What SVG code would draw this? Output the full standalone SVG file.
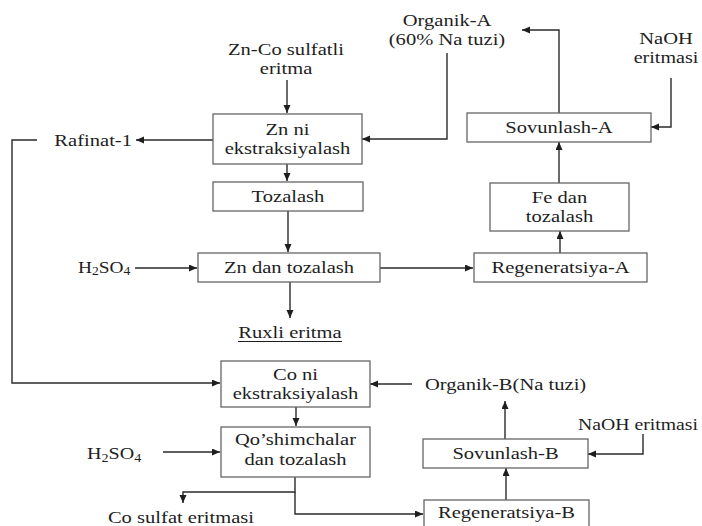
<svg xmlns="http://www.w3.org/2000/svg" width="702" height="526" viewBox="0 0 702 526">
<style>
text{font-family:"Liberation Serif","Times New Roman",serif;font-size:17px;fill:#1e1e1e}
.m{text-anchor:middle}
.e{text-anchor:end}
.box{fill:#fff;stroke:#666;stroke-width:1.3}
.c{fill:none;stroke:#2a2a2a;stroke-width:1.4}
.a{marker-end:url(#ah)}
</style>
<defs>
<marker id="ah" markerUnits="userSpaceOnUse" markerWidth="9" markerHeight="8" refX="8" refY="3.5" orient="auto">
<path d="M0,0 L8,3.5 L0,7 z" fill="#1e1e1e"/>
</marker>
</defs>
<rect width="702" height="526" fill="#fff"/>
<g id="connectors">
<path class="c a" d="M287,80 V113"/>
<path class="c a" d="M213,140 H136"/>
<path class="c a" d="M447,53 V139 H362"/>
<path class="c a" d="M287,164 V181"/>
<path class="c a" d="M288,211 V252"/>
<path class="c a" d="M135,268 H197"/>
<path class="c a" d="M290,282 V318"/>
<path class="c a" d="M380,268 H473"/>
<path class="c a" d="M560,253 V231"/>
<path class="c a" d="M559,183 V142"/>
<path class="c a" d="M559,113 V30 H522"/>
<path class="c a" d="M671,78 V127 H651"/>
<path class="c a" d="M37,140 H12 V383 H220"/>
<path class="c a" d="M412,384 H370"/>
<path class="c a" d="M296,407 V426"/>
<path class="c a" d="M163,452 H220"/>
<path class="c a" d="M295,477 V492 H183 V503"/>
<path class="c a" d="M295,492 V514 H423"/>
<path class="c a" d="M506,500 V468"/>
<path class="c a" d="M505,439 V401"/>
<path class="c a" d="M643,434 V454 H588"/>
</g>
<g id="zn-co-input"><text class="m" transform="translate(286,55) scale(1.21,1)">Zn-Co sulfatli</text><text class="m" transform="translate(286,74) scale(1.21,1)">eritma</text></g>
<g id="zn-extraction"><rect class="box" x="213" y="114" width="149" height="50"/><text class="m" transform="translate(287.5,135) scale(1.21,1)">Zn ni</text><text class="m" transform="translate(287.5,154) scale(1.21,1)">ekstraksiyalash</text></g>
<g id="rafinat-1"><text class="e" transform="translate(132,146) scale(1.21,1)">Rafinat-1</text></g>
<g id="organik-a"><text class="m" transform="translate(447,26) scale(1.21,1)">Organik-A</text><text class="m" transform="translate(447,45) scale(1.21,1)">(60% Na tuzi)</text></g>
<g id="tozalash"><rect class="box" x="213" y="182" width="150" height="29"/><text class="m" transform="translate(288,202) scale(1.21,1)">Tozalash</text></g>
<g id="h2so4-a"><text transform="translate(78,273) scale(1.14,1)">H<tspan font-size="12" dy="2">2</tspan><tspan dy="-2">SO</tspan><tspan font-size="12" dy="2">4</tspan></text></g>
<g id="zn-stripping"><rect class="box" x="198" y="253" width="182" height="29"/><text class="m" transform="translate(289,273) scale(1.21,1)">Zn dan tozalash</text></g>
<g id="ruxli-eritma"><text class="m" transform="translate(290,338) scale(1.21,1)">Ruxli eritma</text><line x1="238" y1="341.5" x2="342" y2="341.5" stroke="#1e1e1e" stroke-width="1.2"/></g>
<g id="regeneratsiya-a"><rect class="box" x="474" y="253" width="173" height="29"/><text class="m" transform="translate(560.5,273) scale(1.21,1)">Regeneratsiya-A</text></g>
<g id="fe-stripping"><rect class="box" x="490" y="183" width="139" height="48"/><text class="m" transform="translate(559.5,203) scale(1.21,1)">Fe dan</text><text class="m" transform="translate(559.5,222) scale(1.21,1)">tozalash</text></g>
<g id="sovunlash-a"><rect class="box" x="467" y="113" width="184" height="29"/><text class="m" transform="translate(559,133) scale(1.21,1)">Sovunlash-A</text></g>
<g id="naoh-a"><text class="m" transform="translate(666,44) scale(1.21,1)">NaOH</text><text class="m" transform="translate(666,63) scale(1.18,1)">eritmasi</text></g>
<g id="co-extraction"><rect class="box" x="221" y="361" width="149" height="46"/><text class="m" transform="translate(295.5,380) scale(1.21,1)">Co ni</text><text class="m" transform="translate(295.5,399) scale(1.21,1)">ekstraksiyalash</text></g>
<g id="organik-b"><text transform="translate(425,390) scale(1.21,1)">Organik-B(Na tuzi)</text></g>
<g id="impurity-stripping"><rect class="box" x="221" y="427" width="149" height="50"/><text class="m" transform="translate(295.5,445) scale(1.21,1)">Qo’shimchalar</text><text class="m" transform="translate(295.5,465) scale(1.21,1)">dan tozalash</text></g>
<g id="h2so4-b"><text transform="translate(87,459) scale(1.18,1)">H<tspan font-size="12" dy="3">2</tspan><tspan dy="-3">SO</tspan><tspan font-size="12" dy="3">4</tspan></text></g>
<g id="co-sulfat"><text class="m" transform="translate(181,523) scale(1.21,1)">Co sulfat eritmasi</text></g>
<g id="sovunlash-b"><rect class="box" x="423" y="439" width="165" height="29"/><text class="m" transform="translate(505.5,459) scale(1.21,1)">Sovunlash-B</text></g>
<g id="naoh-b"><text transform="translate(578,430) scale(1.16,1)">NaOH eritmasi</text></g>
<g id="regeneratsiya-b"><rect class="box" x="424" y="500" width="165" height="34"/><text class="m" transform="translate(506.5,518) scale(1.21,1)">Regeneratsiya-B</text></g>
</svg>
